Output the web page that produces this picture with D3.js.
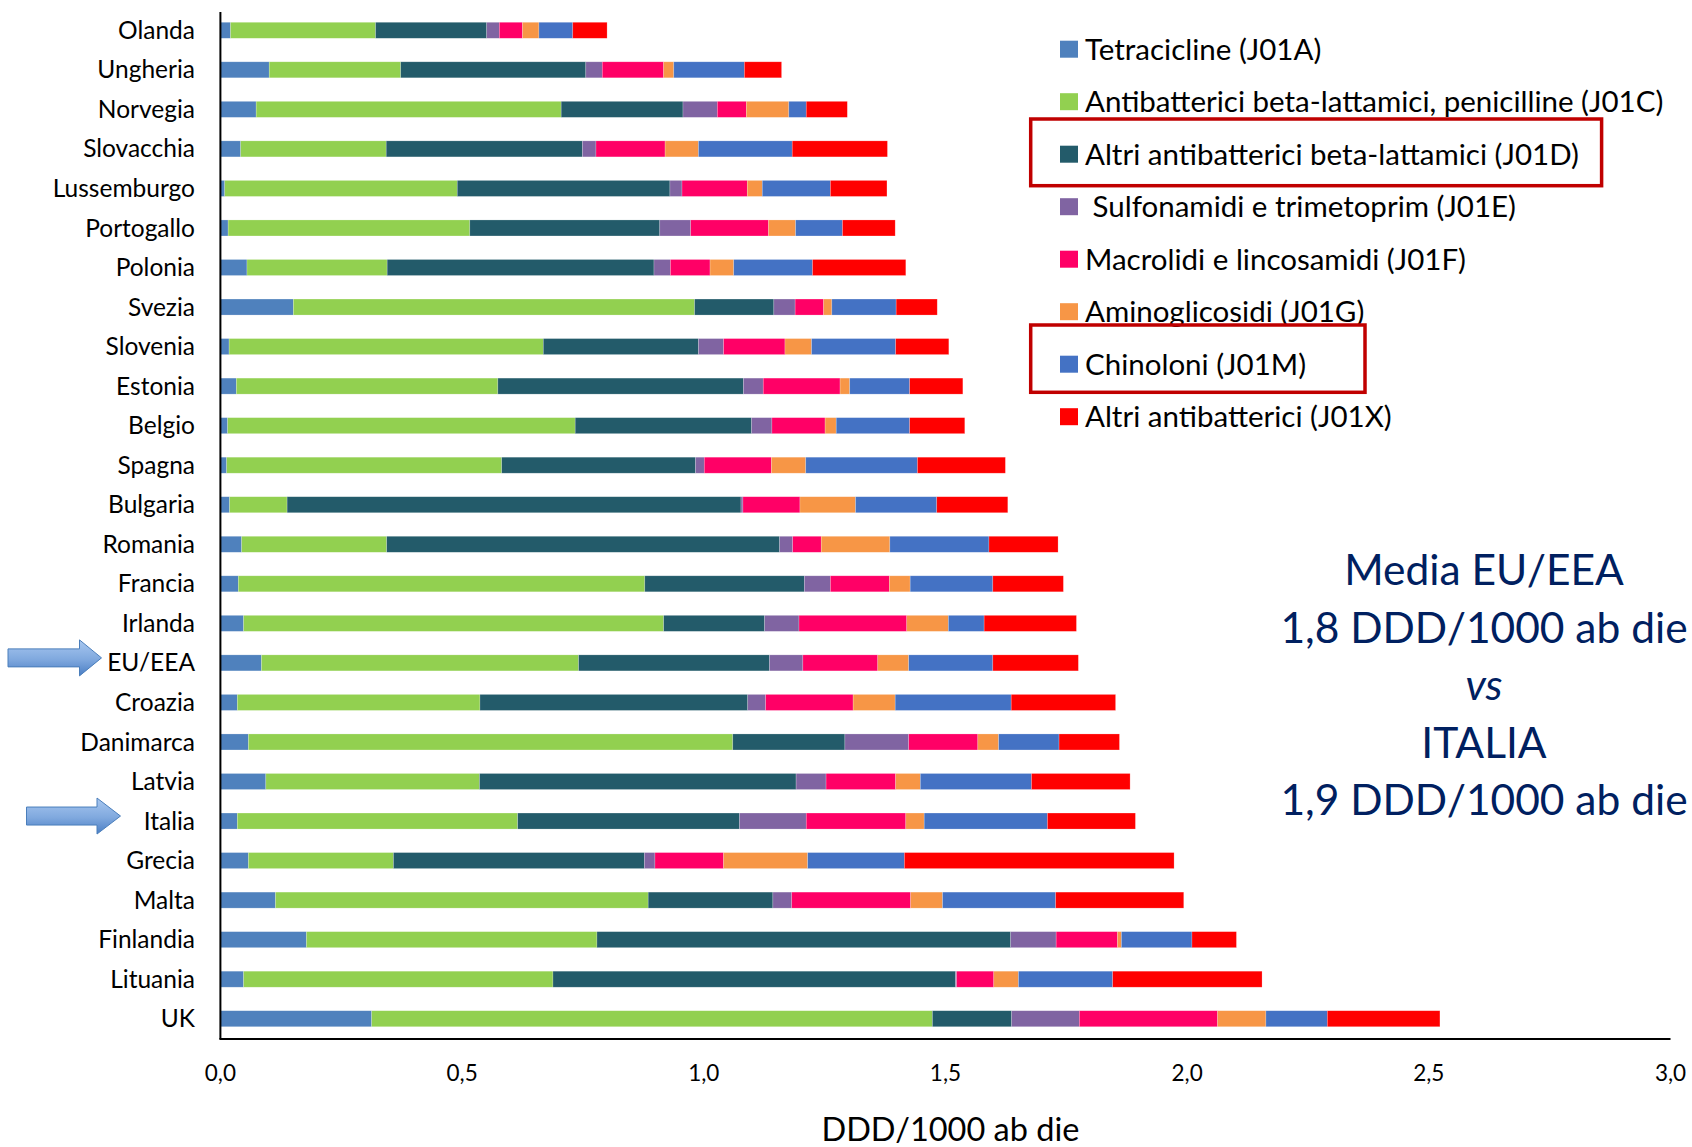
<!DOCTYPE html>
<html>
<head>
<meta charset="utf-8">
<script src="https://cdn.jsdelivr.net/npm/d3@7"></script>
<style>
  html, body { margin: 0; padding: 0; background: #fff; }
  svg { display: block; font-family: Lato, "Open Sans", sans-serif; }
</style>
</head>
<body>
<svg id="chart" width="1692" height="1147"></svg>
<script>
const countries = ["Olanda","Ungheria","Norvegia","Slovacchia","Lussemburgo","Portogallo","Polonia","Svezia","Slovenia","Estonia","Belgio","Spagna","Bulgaria","Romania","Francia","Irlanda","EU/EEA","Croazia","Danimarca","Latvia","Italia","Grecia","Malta","Finlandia","Lituania","UK"];

const seriesKeys = ["J01A","J01C","J01D","J01E","J01F","J01G","J01M","J01X"];
const seriesLabels = [
  "Tetracicline (J01A)",
  "Antibatterici beta-lattamici, penicilline (J01C)",
  "Altri antibatterici beta-lattamici (J01D)",
  " Sulfonamidi e trimetoprim (J01E)",
  "Macrolidi e lincosamidi (J01F)",
  "Aminoglicosidi (J01G)",
  "Chinoloni (J01M)",
  "Altri antibatterici (J01X)"
];
const seriesColors = ["#4F81BD","#92D050","#235B6A","#8064A2","#FF0066","#F79646","#4472C4","#FF0000"];

const J01A = [0.021,0.101,0.074,0.042,0.009,0.016,0.055,0.151,0.018,0.033,0.015,0.013,0.019,0.044,0.037,0.048,0.085,0.035,0.058,0.094,0.035,0.058,0.114,0.178,0.048,0.313];
const J01C = [0.300,0.272,0.631,0.301,0.481,0.500,0.290,0.830,0.650,0.541,0.719,0.569,0.119,0.300,0.841,0.869,0.656,0.502,1.002,0.442,0.580,0.300,0.771,0.601,0.640,1.160];
const J01D = [0.230,0.383,0.252,0.406,0.440,0.393,0.552,0.164,0.321,0.508,0.365,0.401,0.939,0.813,0.330,0.209,0.395,0.554,0.232,0.655,0.459,0.519,0.258,0.856,0.833,0.164];
const J01E = [0.026,0.034,0.071,0.028,0.025,0.064,0.034,0.044,0.052,0.041,0.042,0.018,0.004,0.027,0.054,0.071,0.069,0.037,0.132,0.062,0.138,0.022,0.039,0.094,0.002,0.140];
const J01F = [0.048,0.127,0.060,0.143,0.135,0.161,0.082,0.059,0.127,0.159,0.110,0.139,0.118,0.059,0.122,0.223,0.155,0.181,0.143,0.144,0.206,0.142,0.246,0.127,0.077,0.286];
const J01G = [0.034,0.021,0.088,0.069,0.031,0.056,0.049,0.017,0.055,0.020,0.023,0.071,0.115,0.142,0.043,0.086,0.064,0.087,0.043,0.051,0.038,0.174,0.066,0.008,0.051,0.100];
const J01M = [0.070,0.146,0.036,0.194,0.141,0.097,0.163,0.133,0.174,0.124,0.152,0.231,0.168,0.205,0.171,0.074,0.174,0.240,0.125,0.230,0.255,0.200,0.234,0.146,0.195,0.127];
const J01X = [0.071,0.077,0.085,0.197,0.117,0.109,0.193,0.085,0.110,0.110,0.114,0.182,0.147,0.143,0.146,0.191,0.177,0.216,0.125,0.204,0.182,0.558,0.265,0.092,0.309,0.233];

const xTicks = [0, 0.5, 1.0, 1.5, 2.0, 2.5, 3.0];
const xTitle = "DDD/1000 ab die";
const highlightLegend = ["J01D", "J01M"];
const noteLines = ["Media EU/EEA", "1,8 DDD/1000 ab die", "vs", "ITALIA", "1,9 DDD/1000 ab die"];

const seriesValues = [J01A, J01C, J01D, J01E, J01F, J01G, J01M, J01X];
const table = countries.map((c, i) => {
  const row = { country: c };
  seriesKeys.forEach((k, j) => row[k] = seriesValues[j][i]);
  return row;
});

const svg = d3.select("#chart");
const fmt = d => d3.format(".1f")(d).replace(".", ",");

const x = d3.scaleLinear().domain([0, 3]).range([220.4, 1670.5]);
const y = d3.scaleBand().domain(countries).range([10.5, 1038.5]).paddingInner(0.595).paddingOuter(0.2975);
const color = d3.scaleOrdinal().domain(seriesKeys).range(seriesColors);

const stacked = d3.stack().keys(seriesKeys)(table);

const defs = svg.append("defs");
const grad = defs.append("linearGradient").attr("id", "arrowGrad").attr("x1", 0).attr("y1", 0).attr("x2", 0).attr("y2", 1);
grad.append("stop").attr("offset", "0%").attr("stop-color", "#A9C8F0");
grad.append("stop").attr("offset", "55%").attr("stop-color", "#7FA8DE");
grad.append("stop").attr("offset", "100%").attr("stop-color", "#4A7EC4");

// bars
svg.append("g").selectAll("g").data(stacked).join("g")
  .attr("fill", d => color(d.key))
  .selectAll("rect").data(d => d).join("rect")
  .attr("x", d => x(d[0]))
  .attr("y", d => y(d.data.country))
  .attr("width", d => Math.max(0, x(d[1]) - x(d[0])))
  .attr("height", y.bandwidth())
  .attr("stroke", "#ffffff")
  .attr("stroke-opacity", 0.35)
  .attr("stroke-width", 0.6);

// axes lines
svg.append("line").attr("x1", x(0)).attr("x2", x(0)).attr("y1", 12).attr("y2", 1039)
  .attr("stroke", "#000").attr("stroke-width", 2);
svg.append("line").attr("x1", x(0) - 1).attr("x2", x(3)).attr("y1", 1039).attr("y2", 1039)
  .attr("stroke", "#000").attr("stroke-width", 2.2);

// y labels
svg.append("g").selectAll("text").data(countries).join("text")
  .attr("x", 195)
  .attr("y", d => y(d) + y.bandwidth() / 2)
  .attr("dy", "0.35em")
  .attr("text-anchor", "end")
  .attr("font-size", 24.5)
  .attr("fill", "#000")
  .text(d => d);

// x tick labels
svg.append("g").selectAll("text").data(xTicks).join("text")
  .attr("x", d => x(d))
  .attr("y", 1081)
  .attr("text-anchor", "middle")
  .attr("font-size", 22.5)
  .attr("fill", "#000")
  .text(d => fmt(d));

svg.append("text")
  .attr("x", (x(0) + x(3)) / 2 + 5)
  .attr("y", 1141)
  .attr("text-anchor", "middle")
  .attr("font-size", 32.5)
  .attr("fill", "#000")
  .text(xTitle);

// arrows
const arrowSpecs = [
  { country: "EU/EEA", x0: 8, xh: 79.5, x1: 101.5 },
  { country: "Italia", x0: 26.5, xh: 97, x1: 120.5 }
];
arrowSpecs.forEach(a => {
  const cy = y(a.country) + y.bandwidth() / 2 - 5;
  const sh = 9, hh = 18;
  const p = d3.path();
  p.moveTo(a.x0, cy - sh); p.lineTo(a.xh, cy - sh); p.lineTo(a.xh, cy - hh);
  p.lineTo(a.x1, cy); p.lineTo(a.xh, cy + hh); p.lineTo(a.xh, cy + sh);
  p.lineTo(a.x0, cy + sh); p.closePath();
  svg.append("path").attr("d", p.toString())
    .attr("fill", "url(#arrowGrad)").attr("stroke", "#4A7EBB").attr("stroke-width", 1);
});

// legend
const legend = svg.append("g");
const legY0 = 49.2, legStep = 52.5;
seriesKeys.forEach((k, i) => {
  const cy = legY0 + i * legStep;
  legend.append("rect").attr("x", 1060).attr("y", cy - 8.5).attr("width", 18).attr("height", 17).attr("fill", color(k));
  legend.append("text").attr("x", 1085).attr("y", cy).attr("dy", "0.36em")
    .attr("font-size", 29.5).attr("fill", "#000")
    .style("white-space", "pre")
    .text(seriesLabels[i]);
});
const boxes = { J01D: [1030.7, 119, 570.9, 66.7], J01M: [1030.7, 325, 334.3, 67.3] };
highlightLegend.forEach(k => {
  const b = boxes[k];
  legend.append("rect").attr("x", b[0]).attr("y", b[1]).attr("width", b[2]).attr("height", b[3])
    .attr("fill", "none").attr("stroke", "#C00000").attr("stroke-width", 3.5);
});

// note
const note = svg.append("g");
const noteBase = [585, 643, 700, 758, 815];
noteLines.forEach((t, i) => {
  note.append("text").attr("x", 1484).attr("y", noteBase[i])
    .attr("text-anchor", "middle").attr("font-size", 42.5)
    .attr("font-style", t === "vs" ? "italic" : "normal")
    .attr("fill", "#002060").text(t);
});
</script>
</body>
</html>
